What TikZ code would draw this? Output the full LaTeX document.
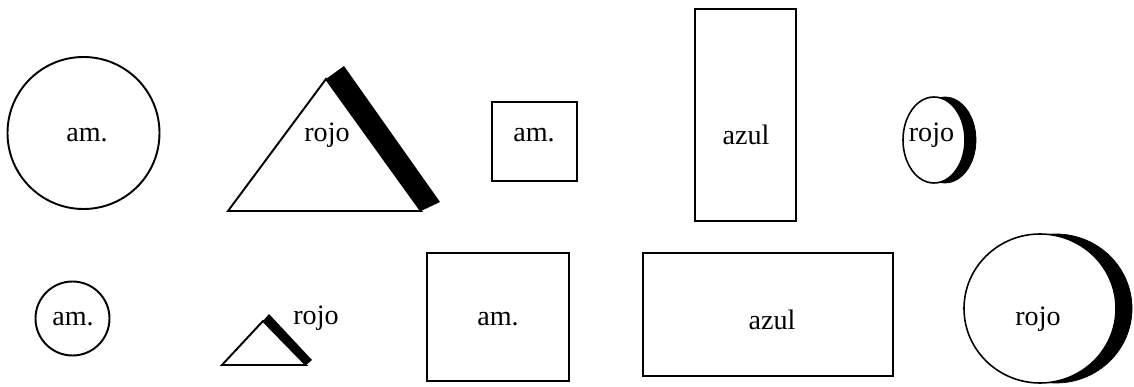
\documentclass[tikz,border=0pt]{standalone}
\usepackage{fontspec}
\setmainfont{Liberation Serif}
\usetikzlibrary{shapes.geometric}

\tikzset{
  figura/.style={draw, line width=1.1pt, fill=white, inner sep=0pt},
  sombra/.style={fill=black, draw=black, inner sep=0pt},
  texto/.style={font=\fontsize{16}{19}\selectfont, inner sep=0pt}
}

\begin{document}
\begin{tikzpicture}
  \useasboundingbox (0, 0) rectangle (22.68, -7.74);

  % fila de arriba
  \node (circ1) [figura, circle, minimum size=3.04cm] at (1.67, -2.66) {};
  \node (txt1) [texto] at (1.74, -2.70) {am.};

  \coordinate (tri1-a) at (4.56, -4.22);
  \coordinate (tri1-b) at (6.52, -1.58);
  \coordinate (tri1-c) at (8.42, -4.22);
  \coordinate (tri1-d) at (6.88, -1.32);
  \coordinate (tri1-e) at (8.80, -4.04);
  \fill (tri1-b) -- (tri1-d) -- (tri1-e) -- (tri1-c) -- cycle;
  \draw[line width=1.1pt] (tri1-a) -- (tri1-b) -- (tri1-c) -- cycle;
  \node (txt2) [texto] at (6.54, -2.70) {rojo};

  \node (cuad1) [figura, rectangle, minimum width=1.70cm, minimum height=1.58cm] at (10.69, -2.83) {};
  \node (txt3) [texto] at (10.68, -2.70) {am.};

  \node (rect1) [figura, rectangle, minimum width=2.02cm, minimum height=4.24cm] at (14.91, -2.30) {};
  \node (txt4) [texto] at (14.92, -2.70) {azul};

  \node (somb1) [sombra, ellipse, minimum width=1.24cm, minimum height=1.72cm] at (18.90, -2.80) {};
  \node (elip1) [figura, ellipse, line width=0.9pt, minimum width=1.24cm, minimum height=1.72cm] at (18.68, -2.80) {};
  \node (txt5) [texto] at (18.63, -2.70) {rojo};

  % fila de abajo
  \node (circ2) [figura, circle, minimum size=1.48cm] at (1.45, -6.37) {};
  \node (txt6) [texto] at (1.46, -6.39) {am.};

  \coordinate (tri2-a) at (4.44, -7.30);
  \coordinate (tri2-b) at (5.26, -6.42);
  \coordinate (tri2-c) at (6.12, -7.30);
  \coordinate (tri2-d) at (5.38, -6.28);
  \coordinate (tri2-e) at (6.24, -7.20);
  \fill (tri2-b) -- (tri2-d) -- (tri2-e) -- (tri2-c) -- cycle;
  \draw[line width=1.1pt] (tri2-a) -- (tri2-b) -- (tri2-c) -- cycle;
  \node (txt7) [texto] at (6.32, -6.37) {rojo};

  \node (cuad2) [figura, rectangle, minimum width=2.84cm, minimum height=2.56cm] at (9.96, -6.34) {};
  \node (txt8) [texto] at (9.96, -6.39) {am.};

  \node (rect2) [figura, rectangle, minimum width=5.00cm, minimum height=2.46cm] at (15.36, -6.29) {};
  \node (txt9) [texto] at (15.44, -6.39) {azul};

  \node (somb2) [sombra, ellipse, minimum width=3.04cm, minimum height=2.98cm] at (21.12, -6.17) {};
  \node (elip2) [figura, ellipse, line width=0.9pt, minimum width=3.04cm, minimum height=2.98cm] at (20.80, -6.17) {};
  \node (txt10) [texto] at (20.76, -6.39) {rojo};
\end{tikzpicture}
\end{document}
